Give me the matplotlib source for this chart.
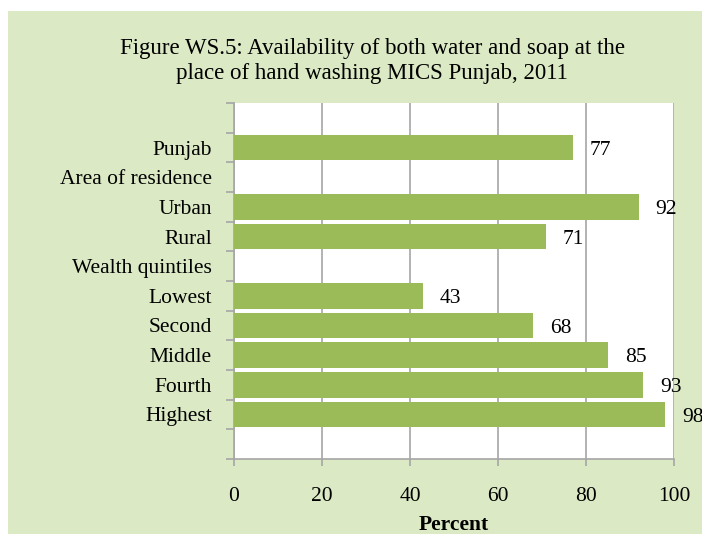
import matplotlib
matplotlib.use("Agg")
import matplotlib.pyplot as plt
import numpy as np

TITLE = "Figure WS.5: Availability of both water and soap at the\nplace of hand washing MICS Punjab, 2011"

categories = ["", "Punjab", "Area of residence", "Urban", "Rural", "Wealth quintiles",
              "Lowest", "Second", "Middle", "Fourth", "Highest", ""]
values = [np.nan, 77, np.nan, 92, 71, np.nan, 43, 68, 85, 93, 98, np.nan]
xticks = [0, 20, 40, 60, 80, 100]

BG = "#dbe9c4"
BAR = "#9bbb59"
GRID = "#a6a6a6"

plt.rcParams["font.family"] = ["Liberation Serif", "DejaVu Serif"]

fig = plt.figure(figsize=(7.02, 5.34), dpi=100)
fig.patch.set_facecolor("white")
fig.patches.append(plt.Rectangle((8 / 702, 0), 1, 1 - 11 / 534, transform=fig.transFigure,
                                 facecolor=BG, edgecolor="none", zorder=-10))

ax = fig.add_axes([234 / 702, 1 - 459 / 534, 440 / 702, 356 / 534])
ax.set_facecolor("white")

y = np.arange(len(categories))
vals = np.array(values, dtype=float)
ax.barh(y, np.nan_to_num(vals), height=0.87, color=BAR, zorder=3)
for yi, v in zip(y, vals):
    if not np.isnan(v):
        ax.annotate(f"{v:.0f}", (v, yi), xytext=(12, -2), textcoords="offset points",
                    ha="left", va="center", fontsize=15.5, zorder=4, annotation_clip=False)

ax.set_ylim(len(categories) - 0.5, -0.5)
ax.set_xlim(0, 100)
ax.set_xticks(xticks)
ax.set_xticklabels([str(t) for t in xticks], fontsize=15.5)
ax.tick_params(axis="x", length=5, color=GRID, width=1.2, pad=15)

ax.set_yticks(y)
ax.set_yticklabels(categories, fontsize=15.5)
ax.set_yticks(np.arange(len(categories) + 1) - 0.5, minor=True)
ax.tick_params(axis="y", which="major", length=0, pad=16)
ax.tick_params(axis="y", which="minor", length=6, color=GRID, width=1.2)

ax.grid(axis="x", color=GRID, linewidth=1.2, zorder=0)
for side in ["top", "right"]:
    ax.spines[side].set_visible(False)
ax.spines["left"].set_color(GRID)
ax.spines["bottom"].set_color(GRID)
ax.spines["left"].set_linewidth(1.2)
ax.spines["bottom"].set_linewidth(1.2)

ax.set_xlabel("Percent", fontsize=15.5, fontweight="bold", labelpad=7)

fig.text(372 / 702, 1 - 61 / 534, TITLE, ha="center", va="center", fontsize=16.5, linespacing=1.2)

fig.savefig("out.png", dpi=100)
